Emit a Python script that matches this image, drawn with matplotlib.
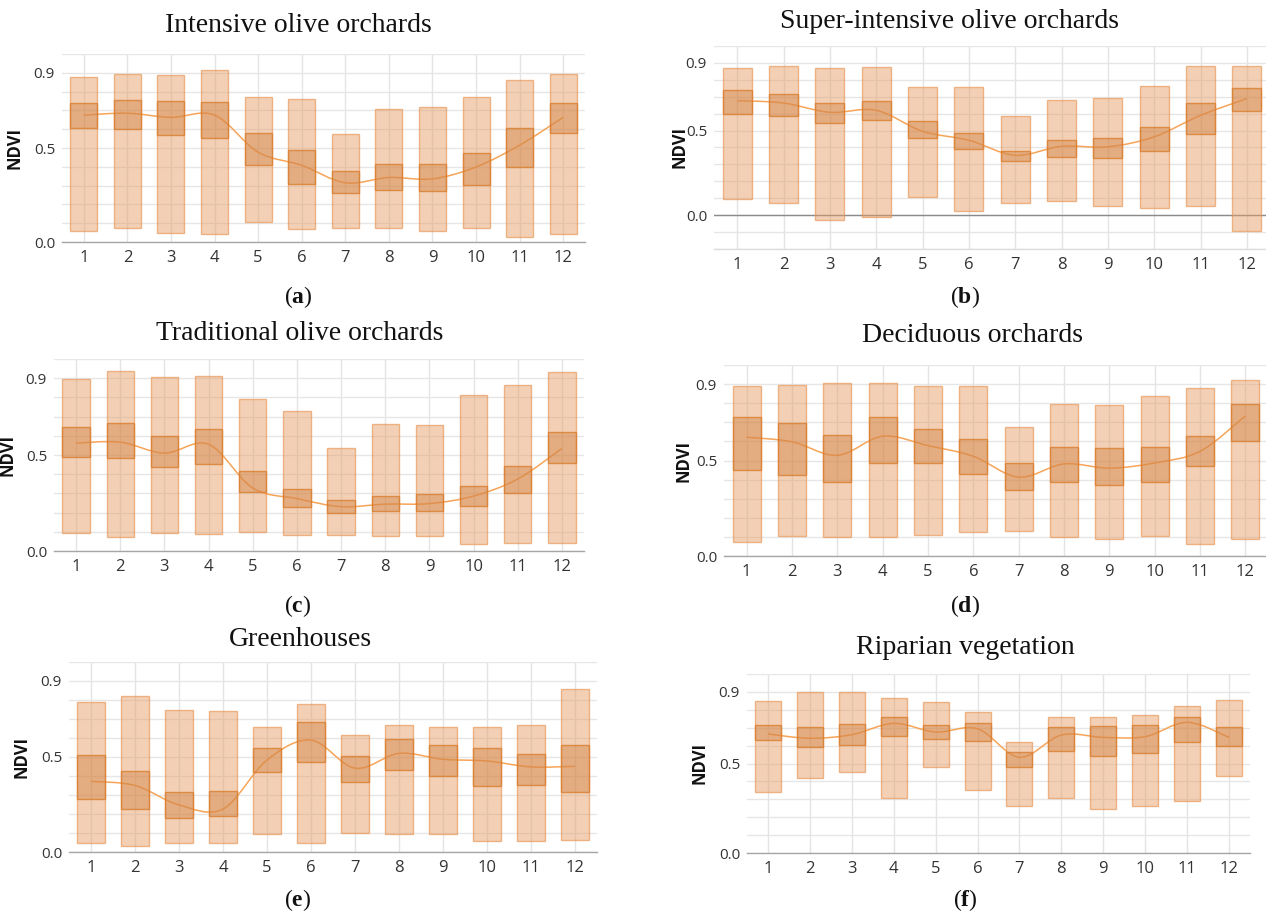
import numpy as np
import matplotlib
matplotlib.use("Agg")
import matplotlib.pyplot as plt
from matplotlib.path import Path
from matplotlib.patches import PathPatch
from matplotlib.ticker import MultipleLocator

months = list(range(1, 13))
month_labels = [str(m) for m in months]

# (a) intensive olive orchards
int_max = [0.875, 0.895, 0.888, 0.917, 0.773, 0.761, 0.573, 0.707, 0.717, 0.770, 0.861, 0.893]
int_q3 = [0.738, 0.757, 0.750, 0.743, 0.578, 0.492, 0.378, 0.415, 0.415, 0.475, 0.606, 0.738]
int_q1 = [0.605, 0.599, 0.568, 0.554, 0.410, 0.311, 0.260, 0.279, 0.272, 0.304, 0.397, 0.580]
int_min = [0.056, 0.077, 0.047, 0.042, 0.105, 0.070, 0.077, 0.074, 0.056, 0.077, 0.025, 0.044]
int_mean = [0.675, 0.685, 0.663, 0.675, 0.478, 0.408, 0.315, 0.343, 0.336, 0.399, 0.515, 0.663]

# (b) super-intensive olive orchards
sup_max = [0.868, 0.882, 0.872, 0.874, 0.758, 0.758, 0.587, 0.679, 0.695, 0.764, 0.882, 0.880]
sup_q3 = [0.742, 0.719, 0.665, 0.673, 0.555, 0.484, 0.382, 0.447, 0.459, 0.520, 0.665, 0.754]
sup_q1 = [0.598, 0.589, 0.543, 0.561, 0.457, 0.390, 0.321, 0.344, 0.339, 0.380, 0.482, 0.616]
sup_min = [0.098, 0.071, -0.026, -0.010, 0.110, 0.024, 0.071, 0.081, 0.055, 0.045, 0.053, -0.093]
sup_mean = [0.677, 0.663, 0.608, 0.620, 0.496, 0.443, 0.354, 0.407, 0.404, 0.463, 0.590, 0.689]

# (c) traditional olive orchards
tra_max = [0.894, 0.938, 0.907, 0.911, 0.791, 0.731, 0.534, 0.663, 0.655, 0.810, 0.865, 0.933]
tra_q3 = [0.645, 0.665, 0.598, 0.633, 0.418, 0.322, 0.268, 0.286, 0.295, 0.338, 0.443, 0.618]
tra_q1 = [0.492, 0.483, 0.436, 0.451, 0.306, 0.231, 0.200, 0.209, 0.210, 0.234, 0.301, 0.460]
tra_min = [0.094, 0.074, 0.096, 0.088, 0.098, 0.082, 0.082, 0.077, 0.076, 0.039, 0.040, 0.042]
tra_mean = [0.562, 0.567, 0.510, 0.556, 0.328, 0.273, 0.231, 0.244, 0.247, 0.286, 0.375, 0.534]

# (d) deciduous orchards
dec_max = [0.889, 0.895, 0.907, 0.907, 0.891, 0.889, 0.678, 0.794, 0.789, 0.840, 0.879, 0.921]
dec_q3 = [0.728, 0.696, 0.633, 0.728, 0.664, 0.615, 0.485, 0.569, 0.564, 0.569, 0.627, 0.796]
dec_q1 = [0.452, 0.422, 0.387, 0.489, 0.485, 0.429, 0.346, 0.390, 0.374, 0.390, 0.473, 0.601]
dec_min = [0.074, 0.105, 0.100, 0.098, 0.109, 0.127, 0.132, 0.100, 0.091, 0.105, 0.063, 0.091]
dec_mean = [0.622, 0.598, 0.527, 0.627, 0.578, 0.522, 0.413, 0.482, 0.460, 0.487, 0.548, 0.733]

# (e) greenhouses
gre_max = [0.792, 0.823, 0.750, 0.741, 0.656, 0.780, 0.614, 0.671, 0.657, 0.659, 0.670, 0.857]
gre_q3 = [0.509, 0.425, 0.315, 0.320, 0.549, 0.682, 0.507, 0.593, 0.565, 0.549, 0.514, 0.565]
gre_q1 = [0.281, 0.224, 0.177, 0.187, 0.423, 0.476, 0.371, 0.434, 0.399, 0.350, 0.351, 0.318]
gre_min = [0.045, 0.030, 0.047, 0.047, 0.096, 0.045, 0.098, 0.096, 0.096, 0.056, 0.056, 0.061]
gre_mean = [0.372, 0.350, 0.248, 0.226, 0.484, 0.589, 0.441, 0.519, 0.488, 0.479, 0.448, 0.451]

# (f) riparian vegetation
rip_max = [0.848, 0.898, 0.898, 0.865, 0.841, 0.787, 0.620, 0.759, 0.757, 0.770, 0.819, 0.854]
rip_q3 = [0.715, 0.704, 0.722, 0.759, 0.715, 0.726, 0.563, 0.704, 0.709, 0.713, 0.761, 0.704]
rip_q1 = [0.630, 0.593, 0.606, 0.652, 0.635, 0.624, 0.481, 0.570, 0.543, 0.557, 0.620, 0.598]
rip_min = [0.339, 0.419, 0.452, 0.309, 0.483, 0.354, 0.261, 0.307, 0.248, 0.265, 0.293, 0.431]
rip_mean = [0.665, 0.641, 0.661, 0.724, 0.676, 0.694, 0.535, 0.659, 0.646, 0.650, 0.730, 0.646]

titles = ["Intensive olive orchards", "Super-intensive olive orchards",
          "Traditional olive orchards", "Deciduous orchards",
          "Greenhouses", "Riparian vegetation"]
letters = ["a", "b", "c", "d", "e", "f"]

plt.rcParams['font.family'] = ['Open Sans', 'DejaVu Sans']
plt.rcParams['mathtext.fontset'] = 'custom'
plt.rcParams['mathtext.rm'] = 'Liberation Serif'
plt.rcParams['mathtext.bf'] = 'Liberation Serif:bold'

W, H = 1266, 921
fig = plt.figure(figsize=(W / 100, H / 100), dpi=100)

OUTER_FC = (0.90, 0.62, 0.40, 0.48)
OUTER_EC = (0.91, 0.58, 0.32, 0.65)
INNER_FC = (0.80, 0.47, 0.20, 0.40)
INNER_EC = (0.85, 0.49, 0.18, 0.80)
LINE_C = '#f7a458'


def smooth_line(ax, x, y):
    # catmull-rom style curve through the monthly means
    pts = np.column_stack([x, y]).astype(float)
    n = len(pts)
    verts = [pts[0]]
    codes = [Path.MOVETO]
    for i in range(n - 1):
        p0 = pts[max(i - 1, 0)]
        p1 = pts[i]
        p2 = pts[i + 1]
        p3 = pts[min(i + 2, n - 1)]
        verts += [p1 + (p2 - p0) / 6, p2 - (p3 - p1) / 6, p2]
        codes += [Path.CURVE4] * 3
    ax.add_patch(PathPatch(Path(verts, codes), fc='none', ec=LINE_C, lw=1.1, zorder=2))


def draw_panel(box_px, ymin, mx, q3, q1, mn, mean, ylab_x, zero_line=False):
    x0, x1, ytop, ybot = box_px
    ax = fig.add_axes([x0 / W, 1 - ybot / H, (x1 - x0) / W, (ybot - ytop) / H])
    mx, q3, q1, mn = map(np.array, (mx, q3, q1, mn))
    ax.bar(months, mx - mn, bottom=mn, width=0.62, color=OUTER_FC,
           edgecolor=OUTER_EC, linewidth=1.0, zorder=3)
    ax.bar(months, q3 - q1, bottom=q1, width=0.62, color=INNER_FC,
           edgecolor=INNER_EC, linewidth=1.0, zorder=4)
    smooth_line(ax, months, mean)

    ax.set_xlim(0.5, 12.5)
    ax.set_ylim(ymin, 1.0)
    ax.set_xticks(months)
    ax.set_xticklabels(month_labels)
    ax.set_yticks([0.0, 0.5, 0.9])
    ax.set_yticklabels(["0.0", "0.5", "0.9"])
    ax.yaxis.set_minor_locator(MultipleLocator(0.1))
    ax.tick_params(axis='both', length=0, colors='#333333')
    ax.tick_params(axis='x', labelsize=12, pad=6)
    ax.tick_params(axis='y', labelsize=11, pad=5)
    ax.tick_params(axis='y', which='minor', length=0)
    ax.grid(True, which='both', axis='y', color='#e6e6e6', lw=1.0, zorder=0)
    ax.grid(True, which='major', axis='x', color='#e4e4e4', lw=1.0, zorder=0)
    ax.set_axisbelow(True)
    for s in ['top', 'right', 'left']:
        ax.spines[s].set_visible(False)
    if zero_line:
        ax.axhline(0, color='#8a8a8a', lw=1.0, zorder=1)
        ax.spines['bottom'].set_color('#dcdcdc')
    else:
        ax.spines['bottom'].set_color('#a6a6a6')
    ax.spines['bottom'].set_linewidth(1.0)
    ax.set_ylabel("NDVI", fontsize=12, fontweight='bold', color='#111111')
    ax.yaxis.set_label_coords((ylab_x - x0) / (x1 - x0), 0.5)
    return ax


panels = [
    ((62, 585, 54, 242), 0.0, int_max, int_q3, int_q1, int_min, int_mean, 24, False),
    ((714, 1270, 46, 249), -0.2, sup_max, sup_q3, sup_q1, sup_min, sup_mean, 688, True),
    ((54, 584, 359, 551), 0.0, tra_max, tra_q3, tra_q1, tra_min, tra_mean, 16, False),
    ((724, 1268, 365, 556), 0.0, dec_max, dec_q3, dec_q1, dec_min, dec_mean, 692, False),
    ((69, 597, 662, 852), 0.0, gre_max, gre_q3, gre_q1, gre_min, gre_mean, 30, False),
    ((747, 1250, 674, 853), 0.0, rip_max, rip_q3, rip_q1, rip_min, rip_mean, 708, False),
]

for p in panels:
    draw_panel(p[0], p[1], *p[2:7], ylab_x=p[7], zero_line=p[8])

title_pos = [(298, 25), (950, 22), (300, 333), (972, 335), (300, 640), (965, 647)]
letter_pos = [(298, 297), (965, 297), (298, 606), (965, 606), (298, 900), (965, 900)]

for t, (tx, ty) in zip(titles, title_pos):
    fig.text(tx / W, 1 - ty / H, t, ha='center', va='center',
             family='Liberation Serif', fontsize=20, color='#111111')

for l, (lx, ly) in zip(letters, letter_pos):
    fig.text(lx / W, 1 - ly / H, r'($\mathbf{' + l + '}$)', ha='center', va='center',
             family='Liberation Serif', fontsize=17, color='#111111')

fig.savefig("out.png", dpi=100)
